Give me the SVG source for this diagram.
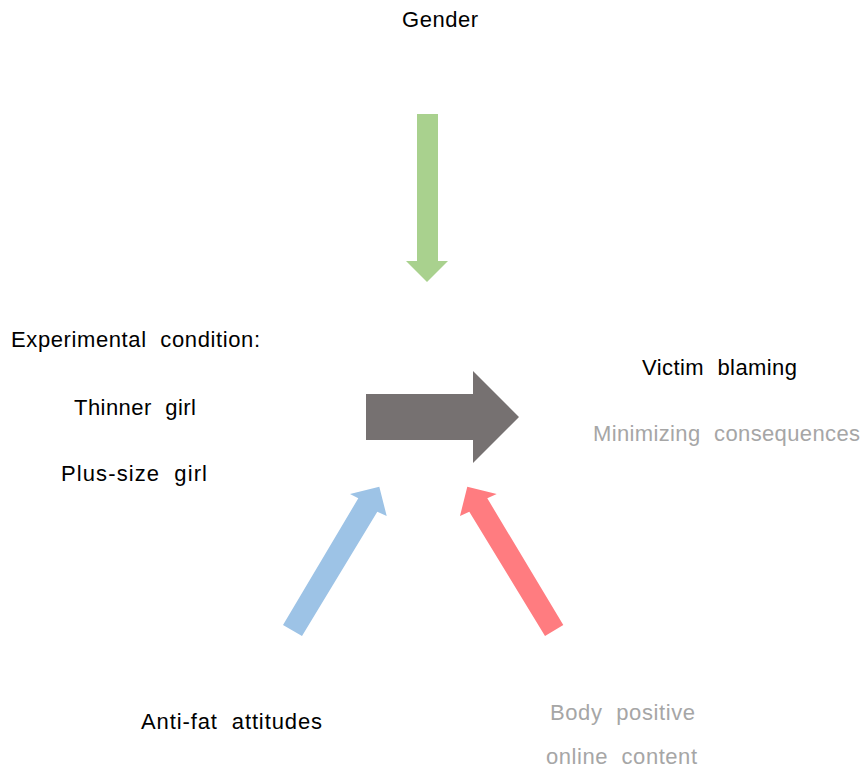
<svg xmlns="http://www.w3.org/2000/svg" width="866" height="772" viewBox="0 0 866 772">
<style>
text{font-family:"Liberation Sans",Arial,sans-serif;font-size:22px;fill:#000;word-spacing:7px}
.g{fill:#a6a6a6}
</style>
<rect width="866" height="772" fill="#fff"/>
<g id="connectors">
<polygon id="arrow-gender" fill="#a9d18e" points="417,114 438,114 438,261 448,261 427,282 406,261 417,261"/>
<polygon id="arrow-main" fill="#767171" points="366,394 473,394 473,371 519,417 473,463 473,440 366,440"/>
<polygon id="arrow-antifat" fill="#9dc3e6" points="283,625 358.3,498.3 350,494 379.3,486.7 386.7,516 377.3,511.7 302,636"/>
<polygon id="arrow-body" fill="#ff7c80" points="563.3,625 487.3,498.3 496.7,494 467.3,486.7 460,516 469.3,511.7 545,636"/>
</g>
<g id="gender"><text x="402" y="27" textLength="76" lengthAdjust="spacing">Gender</text></g>
<g id="condition">
<text x="11" y="347" textLength="249" lengthAdjust="spacing">Experimental condition:</text>
<text x="74" y="415" textLength="122" lengthAdjust="spacing">Thinner girl</text>
<text x="61" y="481" textLength="146" lengthAdjust="spacing">Plus-size girl</text>
</g>
<g id="outcome">
<text x="642" y="375" textLength="155" lengthAdjust="spacing">Victim blaming</text>
<text class="g" x="593" y="441" textLength="267" lengthAdjust="spacing">Minimizing consequences</text>
</g>
<g id="antifat"><text x="141" y="729" textLength="181" lengthAdjust="spacing">Anti-fat attitudes</text></g>
<g id="bodypositive">
<text class="g" x="550" y="720" textLength="145" lengthAdjust="spacing">Body positive</text>
<text class="g" x="546" y="764" textLength="151" lengthAdjust="spacing">online content</text>
</g>
</svg>
